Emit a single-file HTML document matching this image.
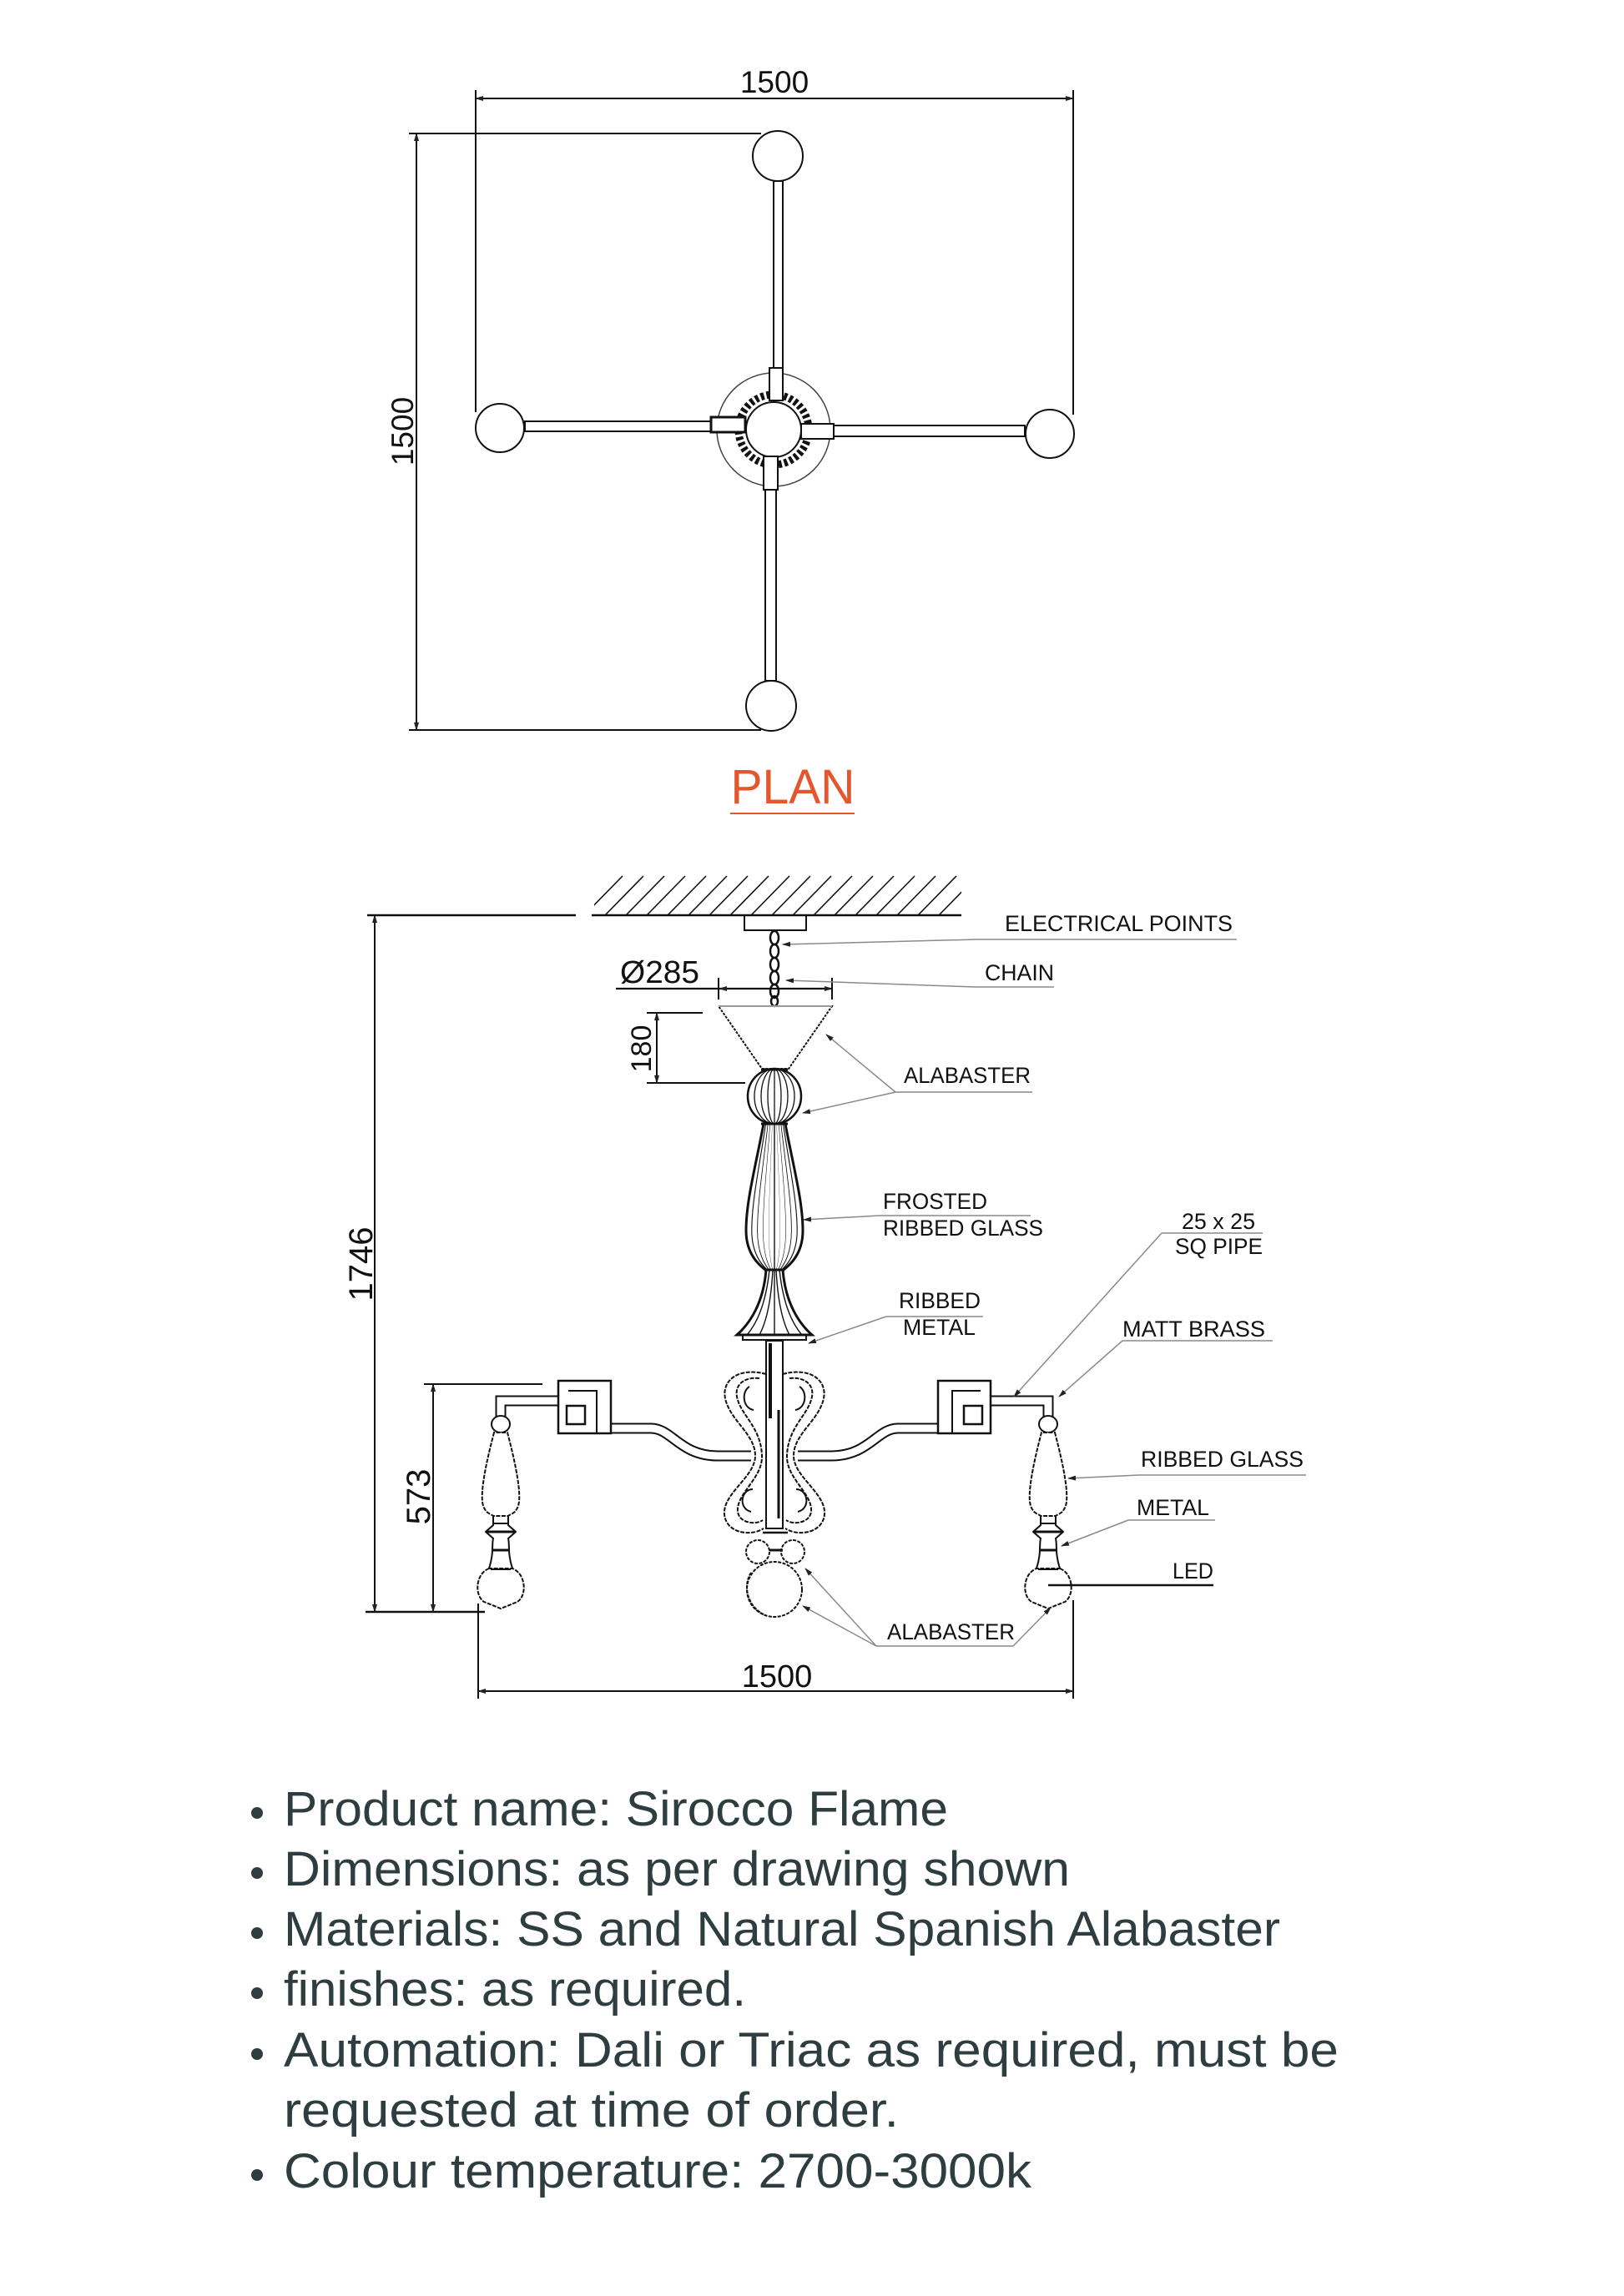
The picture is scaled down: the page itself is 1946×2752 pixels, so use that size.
<!DOCTYPE html>
<html><head><meta charset="utf-8"><style>
html,body{margin:0;padding:0;background:#fff}
svg{display:block}
.d{font-family:"Liberation Sans",Arial,sans-serif;fill:#111}
.l{font-family:"Liberation Sans",Arial,sans-serif;fill:#111;font-size:27px}
.b{font-family:"Liberation Sans",sans-serif;fill:#2e3d3f;font-size:58px}
</style></head><body>
<svg width="1946" height="2752" viewBox="0 0 1946 2752" xmlns="http://www.w3.org/2000/svg">
<defs>
<marker id="ar" markerWidth="10" markerHeight="8" refX="9" refY="4" orient="auto" markerUnits="userSpaceOnUse"><path d="M0,1 L10,4 L0,7 Z" fill="#222"/></marker>
<marker id="as" markerWidth="10" markerHeight="8" refX="1" refY="4" orient="auto" markerUnits="userSpaceOnUse"><path d="M10,1 L0,4 L10,7 Z" fill="#222"/></marker>
<clipPath id="hc"><rect x="712" y="1049" width="440" height="48"/></clipPath>
</defs>
<rect width="1946" height="2752" fill="#fff"/>

<!-- ===== PLAN ===== -->
<g stroke="#111" stroke-width="2" fill="none">
<line x1="570" y1="118" x2="1286" y2="118" marker-start="url(#as)" marker-end="url(#ar)"/>
<line x1="570" y1="108" x2="570" y2="494"/>
<line x1="1286" y1="108" x2="1286" y2="497"/>
<line x1="499" y1="160" x2="499" y2="875" marker-start="url(#as)" marker-end="url(#ar)"/>
<line x1="490" y1="160" x2="912" y2="160"/>
<line x1="490" y1="875" x2="912" y2="875"/>
<!-- arms -->
<rect x="927" y="217" width="11" height="224"/>
<rect x="629" y="505" width="223" height="12"/>
<rect x="999" y="510" width="229" height="13"/>
<rect x="917" y="587" width="13" height="229"/>
<circle cx="927" cy="515" r="68" stroke-width="1.5" stroke="#444"/>
<circle cx="927" cy="515" r="42" stroke-width="9" stroke-dasharray="4 3"/>
<circle cx="927" cy="515" r="33" fill="#fff"/>
<rect x="922" y="441" width="16" height="39" fill="#fff"/>
<rect x="852" y="500" width="41" height="18" fill="#fff" stroke-width="3"/>
<rect x="960" y="508" width="39" height="18" fill="#fff"/>
<rect x="915" y="547" width="17" height="40" fill="#fff"/>
<circle cx="932" cy="187" r="30" fill="#fff"/>
<circle cx="599" cy="513" r="29" fill="#fff"/>
<circle cx="1258" cy="520" r="29" fill="#fff"/>
<circle cx="924" cy="846" r="30" fill="#fff"/>
</g>
<text class="d" x="928" y="111" font-size="37" text-anchor="middle">1500</text>
<text class="d" font-size="37" text-anchor="middle" transform="translate(495,517) rotate(-90)">1500</text>
<text x="950" y="963" font-family="Liberation Sans,sans-serif" font-size="58" fill="#e4572e" text-anchor="middle" textLength="149" lengthAdjust="spacingAndGlyphs">PLAN</text>
<line x1="875" y1="975" x2="1024" y2="975" stroke="#e4572e" stroke-width="2"/>

<!-- ===== ELEVATION ===== -->
<g stroke="#111" stroke-width="2" fill="none">
<g clip-path="url(#hc)" stroke-width="1.6">
<path d="M700,1097 l46,-47 M725,1097 l46,-47 M750,1097 l46,-47 M775,1097 l46,-47 M800,1097 l46,-47 M825,1097 l46,-47 M850,1097 l46,-47 M875,1097 l46,-47 M900,1097 l46,-47 M925,1097 l46,-47 M950,1097 l46,-47 M975,1097 l46,-47 M1000,1097 l46,-47 M1025,1097 l46,-47 M1050,1097 l46,-47 M1075,1097 l46,-47 M1100,1097 l46,-47 M1125,1097 l46,-47"/>
</g>
<line x1="709" y1="1097" x2="1152" y2="1097" stroke-width="2.5"/>
<line x1="440" y1="1097" x2="690" y2="1097" stroke-width="2.5"/>
<rect x="892" y="1097" width="74" height="18"/>
<!-- chain -->
<g stroke-width="2.5">
<ellipse cx="928" cy="1124" rx="5" ry="8"/><ellipse cx="928" cy="1140" rx="5" ry="8"/><ellipse cx="928" cy="1156" rx="5" ry="8"/><ellipse cx="928" cy="1172" rx="5" ry="8"/><ellipse cx="928" cy="1188" rx="5" ry="8"/><ellipse cx="928" cy="1200" rx="4" ry="6"/>
</g>
<!-- Ø285 dim -->
<line x1="738" y1="1185" x2="997" y2="1185" stroke-width="2.2"/>
<line x1="862" y1="1185" x2="997" y2="1185" marker-start="url(#as)" marker-end="url(#ar)"/>
<line x1="861" y1="1172" x2="861" y2="1198"/><line x1="997" y1="1172" x2="997" y2="1198"/>
<!-- cone -->
<path d="M861,1206 L997,1206 L945,1281 L913,1281 Z" stroke-dasharray="3 1.5"/>
<line x1="861" y1="1206" x2="997" y2="1206" stroke="#999"/>
<!-- 180 dim -->
<line x1="775" y1="1214" x2="842" y2="1214"/>
<line x1="775" y1="1298" x2="893" y2="1298"/>
<line x1="787" y1="1214" x2="787" y2="1298" marker-start="url(#as)" marker-end="url(#ar)"/>
<!-- sphere -->
<ellipse cx="928" cy="1314" rx="32" ry="33" stroke-width="2.5"/>
<g stroke-width="1.3">
<ellipse cx="928" cy="1314" rx="24" ry="33"/><ellipse cx="928" cy="1314" rx="16" ry="33"/><ellipse cx="928" cy="1314" rx="8" ry="33"/><line x1="928" y1="1281" x2="928" y2="1347"/>
</g>
<line x1="912" y1="1282" x2="944" y2="1282" stroke-width="3"/>
<line x1="912" y1="1347" x2="944" y2="1347" stroke-width="3"/>
<!-- body -->
<g>
<path d="M915,1347 C905,1400 894,1440 894,1475 C894,1505 912,1518 917,1522 L939,1522 C944,1518 962,1505 962,1475 C962,1440 951,1400 941,1347 Z" stroke-width="3"/>
<g stroke-width="1.4">
<path transform="translate(928,0) scale(0.8,1) translate(-928,0)" d="M915,1347 C905,1400 894,1440 894,1475 C894,1505 912,1518 917,1522 M941,1347 C951,1400 962,1440 962,1475 C962,1505 944,1518 939,1522"/>
<path transform="translate(928,0) scale(0.6,1) translate(-928,0)" d="M915,1347 C905,1400 894,1440 894,1475 C894,1505 912,1518 917,1522 M941,1347 C951,1400 962,1440 962,1475 C962,1505 944,1518 939,1522"/>
<path transform="translate(928,0) scale(0.4,1) translate(-928,0)" d="M915,1347 C905,1400 894,1440 894,1475 C894,1505 912,1518 917,1522 M941,1347 C951,1400 962,1440 962,1475 C962,1505 944,1518 939,1522"/>
<path transform="translate(928,0) scale(0.2,1) translate(-928,0)" d="M915,1347 C905,1400 894,1440 894,1475 C894,1505 912,1518 917,1522 M941,1347 C951,1400 962,1440 962,1475 C962,1505 944,1518 939,1522"/>
<line x1="928" y1="1347" x2="928" y2="1522"/>
</g>
</g>
<!-- flare -->
<path d="M918,1522 C915,1560 900,1585 883,1600 L973,1600 C956,1585 941,1560 938,1522 Z" stroke-width="3" fill="#fff"/>
<g stroke-width="1.4">
<path d="M922,1522 C918,1560 908,1585 895,1600 M926,1522 C924,1560 918,1585 910,1600 M930,1522 C932,1560 938,1585 946,1600 M934,1522 C938,1560 948,1585 961,1600 M928,1522 L928,1600"/>
</g>
<rect x="890" y="1600" width="76" height="6" stroke-width="2"/>

<!-- arms (left, then mirrored) -->
<g id="arm">
<path d="M600,1700 L600,1679 L669,1679" stroke-width="13"/>
<path d="M600,1700 L600,1679 L669,1679" stroke="#fff" stroke-width="9"/>
<path d="M732,1712 L780,1712 C805,1712 815,1745 860,1745 L900,1745" stroke-width="13"/>
<path d="M732,1712 L780,1712 C805,1712 815,1745 860,1745 L900,1745" stroke="#fff" stroke-width="9"/>
<rect x="669" y="1655" width="63" height="63" fill="#fff" stroke-width="2.5"/>
<path d="M681,1667 L715,1667 L715,1718" stroke-width="2"/>
<path d="M672,1679 L706,1679 L706,1718" stroke-width="0" />
<rect x="679" y="1685" width="22" height="22" stroke-width="2.5"/>
<!-- pendant -->
<ellipse cx="600" cy="1707" rx="11" ry="10" fill="#fff"/>
<path d="M592,1717 C586,1740 576,1780 578,1800 C580,1815 590,1815 591,1817 L609,1817 C610,1815 620,1815 622,1800 C624,1780 614,1740 608,1717 Z" stroke-dasharray="5 1.5" fill="#fff"/>
<path d="M591,1817 L591,1828 L582,1836 L591,1844 C589,1852 592,1862 586,1880 M609,1817 L609,1828 L618,1836 L609,1844 C611,1852 608,1862 614,1880" fill="none"/>
<line x1="582" y1="1836" x2="618" y2="1836" stroke-width="3"/>
<line x1="591" y1="1826" x2="609" y2="1826"/>
<line x1="590" y1="1858" x2="610" y2="1858" stroke-width="3"/>
<path d="M586,1880 C570,1886 568,1912 580,1920 L600,1928 L620,1920 C632,1912 630,1886 614,1880 Z" stroke-dasharray="5 1.5" fill="#fff"/>
<line x1="588" y1="1881" x2="612" y2="1881" stroke-width="2"/>
<!-- scrolls -->
<path d="M918,1647 C885,1638 862,1655 870,1680 C878,1705 905,1720 905,1745 C905,1770 866,1790 868,1815 C870,1838 900,1842 915,1832" stroke-dasharray="5 1.5"/>
<path d="M910,1652 C892,1650 878,1660 884,1678 C890,1698 912,1712 913,1745 C914,1772 882,1790 884,1812 C886,1826 906,1828 914,1822" stroke-dasharray="5 1.5"/>
<path d="M898,1662 C888,1668 890,1688 903,1690" stroke-width="2"/>
<path d="M902,1785 C888,1785 884,1808 900,1812" stroke-width="2"/>
</g>
<use href="#arm" transform="translate(1856,0) scale(-1,1)"/>
<!-- central rod -->
<rect x="918" y="1607" width="20" height="225" fill="#fff" stroke-width="2"/>
<line x1="923" y1="1610" x2="923" y2="1700" stroke-width="4"/>
<line x1="933" y1="1690" x2="933" y2="1820" stroke-width="3"/>
<line x1="914" y1="1837" x2="944" y2="1837" stroke-width="2.5"/>
<!-- center pendant -->
<circle cx="908" cy="1860" r="14" fill="#fff" stroke-dasharray="4 1.5"/>
<circle cx="950" cy="1860" r="14" fill="#fff" stroke-dasharray="4 1.5"/>
<line x1="922" y1="1858" x2="938" y2="1858" stroke-width="3"/>
<line x1="920" y1="1878" x2="940" y2="1878" stroke-width="3"/>
<circle cx="928" cy="1905" r="33" fill="#fff" stroke-dasharray="4 1.5"/>
<path d="M900,1885 C890,1900 895,1925 915,1935" stroke-dasharray="4 1.5"/>

<!-- big dims -->
<line x1="449" y1="1097" x2="449" y2="1932" marker-start="url(#as)" marker-end="url(#ar)"/>
<line x1="438" y1="1932" x2="581" y2="1932" stroke-width="2.5"/>
<line x1="508" y1="1659" x2="650" y2="1659"/>
<line x1="519" y1="1659" x2="519" y2="1932" marker-start="url(#as)" marker-end="url(#ar)"/>
<line x1="573" y1="1922" x2="573" y2="2036"/>
<line x1="1286" y1="1918" x2="1286" y2="2036"/>
<line x1="573" y1="2027" x2="1286" y2="2027" marker-start="url(#as)" marker-end="url(#ar)"/>
</g>

<!-- dim texts -->
<text class="d" x="743" y="1178" font-size="38" textLength="95" lengthAdjust="spacingAndGlyphs">Ø285</text>
<text class="d" font-size="34" text-anchor="middle" transform="translate(780,1257) rotate(-90)">180</text>
<text class="d" font-size="40" text-anchor="middle" transform="translate(446,1515) rotate(-90)">1746</text>
<text class="d" font-size="40" text-anchor="middle" transform="translate(515,1794) rotate(-90)">573</text>
<text class="d" x="931" y="2022" font-size="38" text-anchor="middle">1500</text>

<!-- leaders -->
<g stroke="#8a8a8a" stroke-width="1.5" fill="none">
<line x1="1170" y1="1126" x2="1482" y2="1126"/>
<line x1="1170" y1="1126" x2="938" y2="1132" marker-end="url(#ar)"/>
<line x1="1169" y1="1183" x2="1263" y2="1183"/>
<line x1="1169" y1="1183" x2="942" y2="1175" marker-end="url(#ar)"/>
<line x1="1073" y1="1309" x2="1237" y2="1309"/>
<line x1="1073" y1="1309" x2="990" y2="1240" marker-end="url(#ar)"/>
<line x1="1073" y1="1309" x2="962" y2="1334" marker-end="url(#ar)"/>
<line x1="1054" y1="1457" x2="1235" y2="1457"/>
<line x1="1054" y1="1457" x2="963" y2="1462" marker-end="url(#ar)"/>
<line x1="1062" y1="1578" x2="1178" y2="1578"/>
<line x1="1062" y1="1578" x2="969" y2="1610" marker-end="url(#ar)"/>
<line x1="1392" y1="1478" x2="1513" y2="1478"/>
<line x1="1392" y1="1478" x2="1215" y2="1674" marker-end="url(#ar)"/>
<line x1="1345" y1="1607" x2="1525" y2="1607"/>
<line x1="1345" y1="1607" x2="1269" y2="1674" marker-end="url(#ar)"/>
<line x1="1365" y1="1768" x2="1565" y2="1768"/>
<line x1="1365" y1="1768" x2="1280" y2="1772" marker-end="url(#ar)"/>
<line x1="1352" y1="1822" x2="1456" y2="1822"/>
<line x1="1352" y1="1822" x2="1272" y2="1853" marker-end="url(#ar)"/>
<line x1="1050" y1="1973" x2="1214" y2="1973"/>
<line x1="1050" y1="1973" x2="965" y2="1880" marker-end="url(#ar)"/>
<line x1="1050" y1="1973" x2="962" y2="1925" marker-end="url(#ar)"/>
<line x1="1214" y1="1973" x2="1259" y2="1927" marker-end="url(#ar)"/>
</g>
<line x1="1256" y1="1900" x2="1454" y2="1900" stroke="#111" stroke-width="2.5"/>

<!-- labels -->
<text class="l" x="1204" y="1116" textLength="273" lengthAdjust="spacingAndGlyphs">ELECTRICAL POINTS</text>
<text class="l" x="1180" y="1175" textLength="83" lengthAdjust="spacingAndGlyphs">CHAIN</text>
<text class="l" x="1083" y="1298" textLength="152" lengthAdjust="spacingAndGlyphs">ALABASTER</text>
<text class="l" x="1058" y="1449" textLength="125" lengthAdjust="spacingAndGlyphs">FROSTED</text>
<text class="l" x="1058" y="1481" textLength="192" lengthAdjust="spacingAndGlyphs">RIBBED GLASS</text>
<text class="l" x="1077" y="1568" textLength="98" lengthAdjust="spacingAndGlyphs">RIBBED</text>
<text class="l" x="1082" y="1600" textLength="87" lengthAdjust="spacingAndGlyphs">METAL</text>
<text class="l" x="1416" y="1473" textLength="88" lengthAdjust="spacingAndGlyphs">25 x 25</text>
<text class="l" x="1408" y="1503" textLength="105" lengthAdjust="spacingAndGlyphs">SQ PIPE</text>
<text class="l" x="1345" y="1602" textLength="171" lengthAdjust="spacingAndGlyphs">MATT BRASS</text>
<text class="l" x="1367" y="1758" textLength="195" lengthAdjust="spacingAndGlyphs">RIBBED GLASS</text>
<text class="l" x="1362" y="1816" textLength="87" lengthAdjust="spacingAndGlyphs">METAL</text>
<text class="l" x="1405" y="1892" textLength="49" lengthAdjust="spacingAndGlyphs">LED</text>
<text class="l" x="1063" y="1965" textLength="153" lengthAdjust="spacingAndGlyphs">ALABASTER</text>

<!-- bullets -->
<g fill="#2e3d3f">
<circle cx="308" cy="2173" r="7"/><circle cx="308" cy="2245" r="7"/><circle cx="308" cy="2317" r="7"/><circle cx="308" cy="2389" r="7"/><circle cx="308" cy="2462" r="7"/><circle cx="308" cy="2607" r="7"/>
</g>
<text class="b" x="340" y="2188" textLength="796" lengthAdjust="spacingAndGlyphs">Product name: Sirocco Flame</text>
<text class="b" x="340" y="2260" textLength="942" lengthAdjust="spacingAndGlyphs">Dimensions: as per drawing shown</text>
<text class="b" x="340" y="2332" textLength="1194" lengthAdjust="spacingAndGlyphs">Materials: SS and Natural Spanish Alabaster</text>
<text class="b" x="340" y="2404" textLength="554" lengthAdjust="spacingAndGlyphs">finishes: as required.</text>
<text class="b" x="340" y="2477" textLength="1264" lengthAdjust="spacingAndGlyphs">Automation: Dali or Triac as required, must be</text>
<text class="b" x="340" y="2549" textLength="737" lengthAdjust="spacingAndGlyphs">requested at time of order.</text>
<text class="b" x="340" y="2622" textLength="896" lengthAdjust="spacingAndGlyphs">Colour temperature: 2700-3000k</text>
</svg>
</body></html>
